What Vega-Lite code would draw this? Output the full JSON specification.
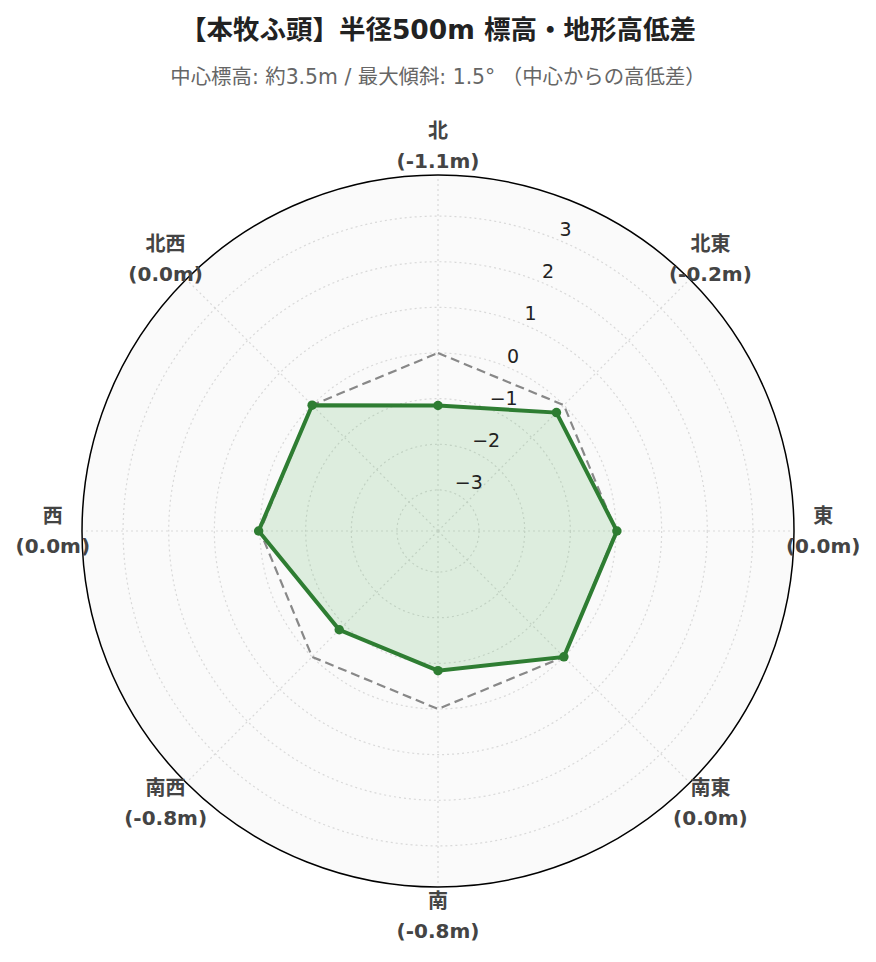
{
  "$schema": "https://vega.github.io/schema/vega-lite/v6.json",
  "width": 712,
  "height": 712,
  "autosize": "none",
  "padding": {"left": 82, "top": 175, "right": 82, "bottom": 75},
  "background": "white",
  "title": {
    "text": "【本牧ふ頭】半径500m 標高・地形高低差",
    "subtitle": "中心標高: 約3.5m / 最大傾斜: 1.5° （中心からの高低差）",
    "anchor": "middle",
    "frame": "group",
    "font": "DejaVu Sans, Noto Sans CJK JP",
    "fontSize": 26.5,
    "fontWeight": "bold",
    "color": "#222222",
    "subtitleFont": "DejaVu Sans, Noto Sans CJK JP",
    "subtitleFontSize": 20.4,
    "subtitleColor": "#666666",
    "subtitlePadding": 24,
    "offset": 33
  },
  "datasets": {
    "dirs": [
      {"dir": "北", "deg": 0, "diff": -1.15, "label": "北\n(-1.1m)"},
      {"dir": "北東", "deg": 45, "diff": -0.23, "label": "北東\n(-0.2m)"},
      {"dir": "東", "deg": 90, "diff": 0.02, "label": "東\n(0.0m)"},
      {"dir": "南東", "deg": 135, "diff": 0.0, "label": "南東\n(0.0m)"},
      {"dir": "南", "deg": 180, "diff": -0.84, "label": "南\n(-0.8m)"},
      {"dir": "南西", "deg": 225, "diff": -0.84, "label": "南西\n(-0.8m)"},
      {"dir": "西", "deg": 270, "diff": 0.03, "label": "西\n(0.0m)"},
      {"dir": "北西", "deg": 315, "diff": 0.0, "label": "北西\n(0.0m)"}
    ],
    "ticks": [
      {"t": -3, "txt": "−3"},
      {"t": -2, "txt": "−2"},
      {"t": -1, "txt": "−1"},
      {"t": 0, "txt": "0"},
      {"t": 1, "txt": "1"},
      {"t": 2, "txt": "2"},
      {"t": 3, "txt": "3"}
    ],
    "edge": [{"t": 3.9}]
  },
  "layer": [
    {
      "data": {"name": "edge"},
      "transform": [
        {"calculate": "datum.t+3.9", "as": "u"},
        {"calculate": "0", "as": "o"}
      ],
      "mark": {"type": "point", "shape": "circle", "filled": true, "fill": "#fafafa", "opacity": 1, "strokeWidth": 0},
      "encoding": {
        "x": {"field": "o", "type": "quantitative", "scale": {"domain": [-7.8, 7.8], "nice": false, "zero": false}, "axis": null},
        "y": {"field": "o", "type": "quantitative", "scale": {"domain": [-7.8, 7.8], "nice": false, "zero": false}, "axis": null},
        "size": {"field": "u", "type": "quantitative", "scale": {"type": "pow", "exponent": 2, "domain": [0, 7.8], "range": [0, 506944], "zero": true}, "legend": null}
      }
    },
    {
      "data": {"name": "ticks"},
      "transform": [
        {"calculate": "datum.t+3.9", "as": "u"},
        {"calculate": "0", "as": "o"}
      ],
      "mark": {"type": "point", "shape": "circle", "filled": false, "stroke": "#d9d9d9", "opacity": 1, "strokeWidth": 1.2, "strokeDash": [2, 3]},
      "encoding": {
        "x": {"field": "o", "type": "quantitative", "scale": {"domain": [-7.8, 7.8], "nice": false, "zero": false}, "axis": null},
        "y": {"field": "o", "type": "quantitative", "scale": {"domain": [-7.8, 7.8], "nice": false, "zero": false}, "axis": null},
        "size": {"field": "u", "type": "quantitative", "scale": {"type": "pow", "exponent": 2, "domain": [0, 7.8], "range": [0, 506944], "zero": true}, "legend": null}
      }
    },
    {
      "data": {"name": "dirs"},
      "transform": [
        {"calculate": "0", "as": "o"},
        {"calculate": "7.8*sin(datum.deg*PI/180)", "as": "ox"},
        {"calculate": "7.8*cos(datum.deg*PI/180)", "as": "oy"}
      ],
      "mark": {"type": "rule", "stroke": "#d9d9d9", "strokeWidth": 1.2, "strokeDash": [2, 3]},
      "encoding": {
        "x": {"field": "o", "type": "quantitative", "scale": {"domain": [-7.8, 7.8], "nice": false, "zero": false}, "axis": null},
        "y": {"field": "o", "type": "quantitative", "scale": {"domain": [-7.8, 7.8], "nice": false, "zero": false}, "axis": null},
        "x2": {"field": "ox"},
        "y2": {"field": "oy"}
      }
    },
    {
      "data": {"name": "dirs"},
      "transform": [
        {"calculate": "(datum.diff+3.9)*sin(datum.deg*PI/180)", "as": "px"},
        {"calculate": "(datum.diff+3.9)*cos(datum.deg*PI/180)", "as": "py"}
      ],
      "mark": {"type": "line", "interpolate": "linear-closed", "fill": "#4caf50", "fillOpacity": 0.16, "strokeOpacity": 0},
      "encoding": {
        "x": {"field": "px", "type": "quantitative", "scale": {"domain": [-7.8, 7.8], "nice": false, "zero": false}, "axis": null},
        "y": {"field": "py", "type": "quantitative", "scale": {"domain": [-7.8, 7.8], "nice": false, "zero": false}, "axis": null},
        "order": {"field": "deg", "type": "quantitative"}
      }
    },
    {
      "data": {"name": "dirs"},
      "transform": [
        {"calculate": "3.9*sin(datum.deg*PI/180)", "as": "zx"},
        {"calculate": "3.9*cos(datum.deg*PI/180)", "as": "zy"}
      ],
      "mark": {"type": "line", "interpolate": "linear-closed", "stroke": "#888888", "strokeWidth": 2.2, "strokeDash": [9, 5]},
      "encoding": {
        "x": {"field": "zx", "type": "quantitative", "scale": {"domain": [-7.8, 7.8], "nice": false, "zero": false}, "axis": null},
        "y": {"field": "zy", "type": "quantitative", "scale": {"domain": [-7.8, 7.8], "nice": false, "zero": false}, "axis": null},
        "order": {"field": "deg", "type": "quantitative"}
      }
    },
    {
      "data": {"name": "dirs"},
      "transform": [
        {"calculate": "(datum.diff+3.9)*sin(datum.deg*PI/180)", "as": "px"},
        {"calculate": "(datum.diff+3.9)*cos(datum.deg*PI/180)", "as": "py"}
      ],
      "mark": {"type": "line", "interpolate": "linear-closed", "stroke": "#2e7d32", "strokeWidth": 4},
      "encoding": {
        "x": {"field": "px", "type": "quantitative", "scale": {"domain": [-7.8, 7.8], "nice": false, "zero": false}, "axis": null},
        "y": {"field": "py", "type": "quantitative", "scale": {"domain": [-7.8, 7.8], "nice": false, "zero": false}, "axis": null},
        "order": {"field": "deg", "type": "quantitative"}
      }
    },
    {
      "data": {"name": "dirs"},
      "transform": [
        {"calculate": "(datum.diff+3.9)*sin(datum.deg*PI/180)", "as": "px"},
        {"calculate": "(datum.diff+3.9)*cos(datum.deg*PI/180)", "as": "py"}
      ],
      "mark": {"type": "circle", "size": 90, "color": "#2e7d32", "opacity": 1},
      "encoding": {
        "x": {"field": "px", "type": "quantitative", "scale": {"domain": [-7.8, 7.8], "nice": false, "zero": false}, "axis": null},
        "y": {"field": "py", "type": "quantitative", "scale": {"domain": [-7.8, 7.8], "nice": false, "zero": false}, "axis": null}
      }
    },
    {
      "data": {"name": "edge"},
      "transform": [
        {"calculate": "datum.t+3.9", "as": "u"},
        {"calculate": "0", "as": "o"}
      ],
      "mark": {"type": "point", "shape": "circle", "filled": false, "stroke": "#000000", "opacity": 1, "strokeWidth": 1.5},
      "encoding": {
        "x": {"field": "o", "type": "quantitative", "scale": {"domain": [-7.8, 7.8], "nice": false, "zero": false}, "axis": null},
        "y": {"field": "o", "type": "quantitative", "scale": {"domain": [-7.8, 7.8], "nice": false, "zero": false}, "axis": null},
        "size": {"field": "u", "type": "quantitative", "scale": {"type": "pow", "exponent": 2, "domain": [0, 7.8], "range": [0, 506944], "zero": true}, "legend": null}
      }
    },
    {
      "data": {"name": "ticks"},
      "transform": [
        {"calculate": "(datum.t+3.9)*sin(22.5*PI/180)", "as": "tx"},
        {"calculate": "(datum.t+3.9)*cos(22.5*PI/180)", "as": "ty"}
      ],
      "mark": {"type": "text", "align": "left", "baseline": "middle", "dx": 1, "dy": -10, "font": "DejaVu Sans", "fontSize": 19, "color": "#222222"},
      "encoding": {
        "x": {"field": "tx", "type": "quantitative", "scale": {"domain": [-7.8, 7.8], "nice": false, "zero": false}, "axis": null},
        "y": {"field": "ty", "type": "quantitative", "scale": {"domain": [-7.8, 7.8], "nice": false, "zero": false}, "axis": null},
        "text": {"field": "txt"}
      }
    },
    {
      "data": {"name": "dirs"},
      "transform": [
        {"calculate": "8.44*sin(datum.deg*PI/180)", "as": "lx"},
        {"calculate": "8.44*cos(datum.deg*PI/180)", "as": "ly"}
      ],
      "mark": {"type": "text", "align": "center", "baseline": "middle", "dy": -14, "lineBreak": "\n", "lineHeight": 30, "font": "DejaVu Sans, Noto Sans CJK JP", "fontSize": 20, "fontWeight": "bold", "color": "#444444"},
      "encoding": {
        "x": {"field": "lx", "type": "quantitative", "scale": {"domain": [-7.8, 7.8], "nice": false, "zero": false}, "axis": null},
        "y": {"field": "ly", "type": "quantitative", "scale": {"domain": [-7.8, 7.8], "nice": false, "zero": false}, "axis": null},
        "text": {"field": "label"}
      }
    }
  ],
  "config": {"view": {"stroke": null}}
}
